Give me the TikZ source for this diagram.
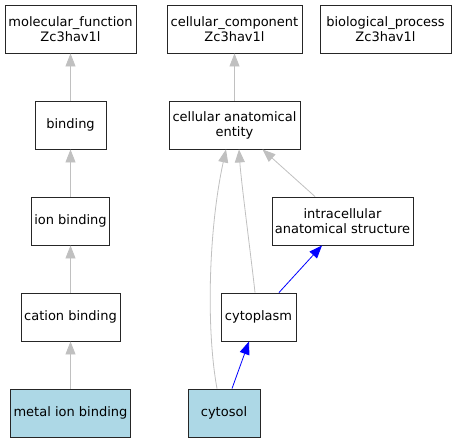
\documentclass[tikz,border=0pt]{standalone}
\usepackage{fontspec}
\setmainfont{DejaVu Sans}
\usetikzlibrary{arrows.meta}
\definecolor{edgegray}{HTML}{C0C0C0}
\definecolor{lblue}{HTML}{ADD8E6}
\begin{document}
\begin{tikzpicture}[x=1pt,y=-1pt,
  term/.style={draw=black!85,line width=0.9pt,fill=white,rectangle,minimum height=48pt,inner sep=0pt,align=center,font=\fontsize{13}{15}\selectfont},
  leaf/.style={term,fill=lblue},
  isa/.style={draw=edgegray,line width=0.8pt,-{Triangle[length=13pt,width=10pt]}},
  partof/.style={draw=blue,line width=0.8pt,-{Triangle[length=13pt,width=10pt]}}]
\useasboundingbox (0,0) rectangle (457,443);
\node[term,minimum width=131pt] (mf) at (70.5,29) {molecular\_function\\Zc3hav1l};
\node[term,minimum width=71pt] (bind) at (70.5,125) {binding};
\node[term,minimum width=78pt] (ion) at (70.5,221) {ion binding};
\node[term,minimum width=99pt] (cat) at (70.5,317) {cation binding};
\node[leaf,minimum width=120pt] (metal) at (70.5,413) {metal ion binding};
\node[term,minimum width=135pt] (cc) at (234.5,29) {cellular\_component\\Zc3hav1l};
\node[term,minimum width=131pt] (bp) at (385.5,29) {biological\_process\\Zc3hav1l};
\node[term,minimum width=131pt] (cae) at (234.5,125) {cellular anatomical\\entity};
\node[term,minimum width=141pt] (ias) at (342.5,221) {intracellular\\anatomical structure};
\node[term,minimum width=75pt] (cyto) at (258.5,317) {cytoplasm};
\node[leaf,minimum width=72pt] (sol) at (224,413) {cytosol};
\draw[isa] (bind) -- (mf);
\draw[isa] (ion) -- (bind);
\draw[isa] (cat) -- (ion);
\draw[isa] (metal) -- (cat);
\draw[isa] (cae) -- (cc);
\draw[isa] ([xshift=-27.5pt]ias.north) -- ([xshift=28pt]cae.south);
\draw[isa] ([xshift=-3.5pt]cyto.north) .. controls ([xshift=-6.5pt,yshift=28pt]cyto.north) and ([xshift=6.5pt,yshift=-31pt]cae.south) .. ([xshift=4.5pt]cae.south);
\draw[isa] ([xshift=-7pt]sol.north) .. controls ([xshift=-18pt,yshift=60pt]sol.north) and ([xshift=-26pt,yshift=-80pt]cae.south) .. ([xshift=-8.5pt]cae.south);
\draw[partof] ([xshift=8pt]sol.north) -- ([xshift=-9.5pt]cyto.south);
\draw[partof] ([xshift=20.5pt]cyto.north) -- ([xshift=-20.5pt]ias.south);
\end{tikzpicture}
\end{document}
